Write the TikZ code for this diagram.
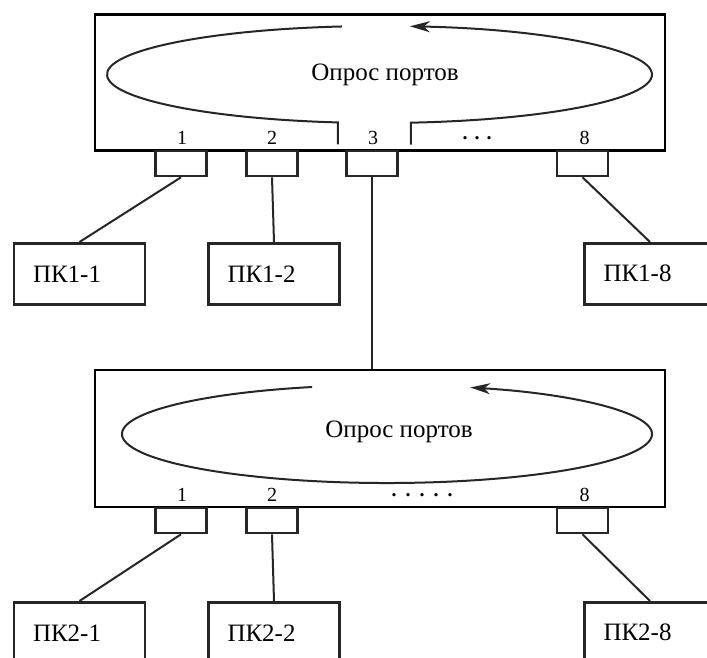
\documentclass[tikz,border=0pt]{standalone}
\usepackage{fontspec}
\setmainfont{Liberation Serif}
\usetikzlibrary{
  positioning,
  arrows.meta,
  calc
}

\begin{document}
\begin{tikzpicture}[
      x=1pt, y=1pt,
      >=Stealth,
      switchbox/.style={
        rectangle,
        draw=black,
        line width=2.8pt,
        minimum width=570pt,
        minimum height=136pt,
        inner sep=0pt
      },
      portbox/.style={
        rectangle,
        draw=black!85,
        line width=2.3pt,
        minimum width=51pt,
        minimum height=25pt,
        inner sep=0pt,
        anchor=north
      },
      pcbox/.style={
        rectangle,
        draw=black!85,
        line width=2.5pt,
        minimum width=131pt,
        minimum height=61pt,
        inner xsep=19pt,
        inner ysep=0pt,
        text width=93pt,
        align=left,
        anchor=north,
        font=\fontsize{25}{30}\selectfont
      },
      portnum/.style={
        inner sep=0pt,
        font=\fontsize{20}{24}\selectfont
      },
      polltext/.style={
        inner sep=0pt,
        font=\fontsize{25}{30}\selectfont
      },
      poll/.style={
        draw=black!85,
        line width=2pt
      },
      wire/.style={
        draw=black!85,
        line width=2pt
      }
    ]

    \useasboundingbox (0,0) rectangle (707,-657);
    \clip (0,0) rectangle (707,-657);

    % Switch 1
    \node[switchbox] (sw1) at (380,-82.5) {};
    \coordinate (ell1) at (379.5,-74.5);
    \node[polltext] (poll1) at (385,-75) {Опрос портов};

    \draw[poll] ($(ell1)+(97.9:272.5 and 48.5)$)
      arc[start angle=97.9, end angle=261.2, x radius=272.5, y radius=48.5]
      -- ++(0,-22);
    \draw[poll,-{Stealth[length=20pt,width=11pt,inset=6pt]}]
      ($(ell1)+(276.6:272.5 and 48.5)+(0,-22)$) -- ++(0,22)
      arc[start angle=276.6, end angle=443.6, x radius=272.5, y radius=48.5];

    \node[portbox] (p1a) at (181,-150) {};
    \node[portbox] (p1b) at (272,-150) {};
    \node[portbox] (p1c) at (372,-150) {};
    \node[portbox] (p1h) at (582.5,-150) {};

    \node[portnum] at ($(p1a.north)+(1,12)$) {1};
    \node[portnum] at ($(p1b.north)+(0,12)$) {2};
    \node[portnum] at ($(p1c.north)+(1,12)$) {3};
    \node[portnum] at ($(p1h.north)+(2,12)$) {8};
    \node[portnum] (dots1) at (477,-138) {\textbf{.}\hspace{7pt}\textbf{.}\hspace{7pt}\textbf{.}};

    % Computers of switch 1
    \node[pcbox] (pc11) at (79.5,-242) {ПК1-1};
    \node[pcbox] (pc12) at (274,-242) {ПК1-2};
    \node[pcbox] (pc18) at (650,-242) {ПК1-8};

    \draw[wire] (p1a.south) -- (pc11.north);
    \draw[wire] (p1b.south) -- (pc12.north);
    \draw[wire] (p1h.south) -- (pc18.north);

    % Switch 2
    \node[switchbox, minimum height=137pt] (sw2) at (380,-438.5) {};
    \coordinate (ell2) at (387,-434);
    \node[polltext] (poll2) at (399,-432) {Опрос портов};

    \draw[poll,-{Stealth[length=20pt,width=11pt,inset=6pt]}]
      ($(ell2)+(106.4:265 and 49)$)
      arc[start angle=106.4, end angle=431.7, x radius=265, y radius=49];

    \draw[wire] (p1c.south) -- (p1c.south |- sw2.north);

    \node[portbox] (p2a) at (181,-507) {};
    \node[portbox] (p2b) at (272,-507) {};
    \node[portbox] (p2h) at (582.5,-507) {};

    \node[portnum] at ($(p2a.north)+(1,12)$) {1};
    \node[portnum] at ($(p2b.north)+(0,12)$) {2};
    \node[portnum] at ($(p2h.north)+(2,12)$) {8};
    \node[portnum] (dots2) at (422,-495) {\textbf{.}\hspace{9pt}\textbf{.}\hspace{9pt}\textbf{.}\hspace{9pt}\textbf{.}\hspace{9pt}\textbf{.}};

    % Computers of switch 2
    \node[pcbox] (pc21) at (79.5,-601) {ПК2-1};
    \node[pcbox] (pc22) at (274,-601) {ПК2-2};
    \node[pcbox] (pc28) at (650,-601) {ПК2-8};

    \draw[wire] (p2a.south) -- (pc21.north);
    \draw[wire] (p2b.south) -- (pc22.north);
    \draw[wire] (p2h.south) -- (pc28.north);

\end{tikzpicture}
\end{document}
